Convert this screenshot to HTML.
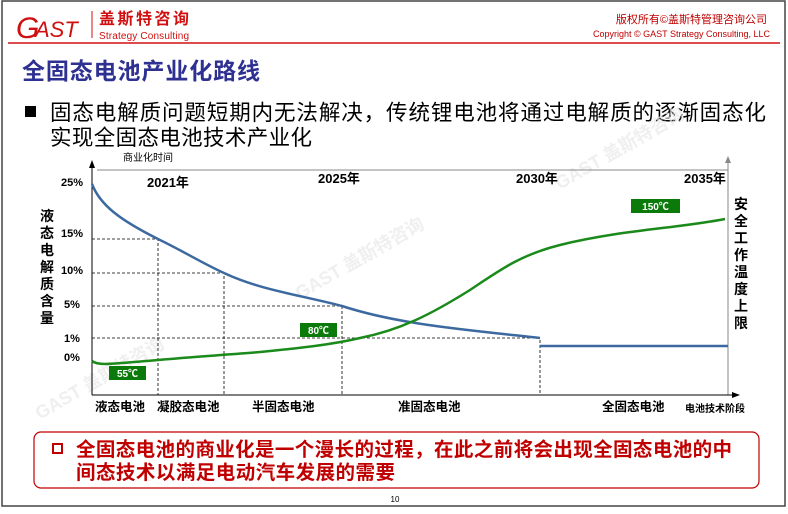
<!DOCTYPE html>
<html><head><meta charset="utf-8"><style>
html,body{margin:0;padding:0;background:#fff}
svg text{font-family:"Liberation Sans","Noto Sans CJK SC",sans-serif}
</style></head><body>
<svg width="788" height="509" viewBox="0 0 788 509" xmlns="http://www.w3.org/2000/svg">
<rect x="0" y="0" width="788" height="509" fill="#fff"/>
<rect x="2" y="1" width="783" height="505" fill="none" stroke="#444" stroke-width="1.5"/>
<!-- header -->
<text x="16" y="38" font-size="30" font-style="italic" fill="#d01010" font-family="Liberation Serif">G</text>
<text x="35" y="37" font-size="22" font-style="italic" fill="#d01010" font-family="Liberation Sans">AST</text>
<line x1="92" y1="11" x2="92" y2="38" stroke="#d01010" stroke-width="1"/>
<text x="99" y="24" font-size="16" font-weight="bold" fill="#d01010" textLength="90">盖斯特咨询</text>
<text x="99" y="39" font-size="10" fill="#d01010" textLength="90">Strategy Consulting</text>
<text x="767" y="23" font-size="11" fill="#c00000" text-anchor="end">版权所有©盖斯特管理咨询公司</text>
<text x="770" y="37" font-size="9" fill="#c00000" text-anchor="end">Copyright © GAST Strategy Consulting, LLC</text>
<line x1="8" y1="43" x2="780" y2="43" stroke="#d01010" stroke-width="1.5"/>
<text x="22" y="79" font-size="23" font-weight="bold" fill="#2e3192" textLength="238">全固态电池产业化路线</text>
<rect x="25" y="106" width="11" height="11" fill="#000"/>
<text x="50" y="120" font-size="21.5" fill="#000" textLength="716">固态电解质问题短期内无法解决，传统锂电池将通过电解质的逐渐固态化</text>
<text x="50" y="145" font-size="21.5" fill="#000" textLength="262">实现全固态电池技术产业化</text>
<!-- watermark -->
<g fill="#e8e8e8" font-weight="bold" font-size="18" opacity="0.7">
<text x="40" y="420" transform="rotate(-30 40 420)">GAST 盖斯特咨询</text>
<text x="300" y="300" transform="rotate(-30 300 300)">GAST 盖斯特咨询</text>
<text x="560" y="190" transform="rotate(-30 560 190)">GAST 盖斯特咨询</text>
</g>
<!-- axes -->
<text x="123" y="161" font-size="10" fill="#000">商业化时间</text>
<line x1="92" y1="166" x2="92" y2="395" stroke="#000" stroke-width="1"/>
<polygon points="89,168 92,160 95,168" fill="#000"/>
<line x1="97" y1="170" x2="728" y2="170" stroke="#888" stroke-width="1"/>
<line x1="728" y1="162" x2="728" y2="395" stroke="#888" stroke-width="1"/>
<polygon points="725,163 728,156 731,163" fill="#888"/>
<line x1="92" y1="395" x2="734" y2="395" stroke="#000" stroke-width="1"/>
<polygon points="732,392 740,395 732,398" fill="#000"/>
<g font-size="11" font-weight="bold" fill="#000">
<text x="61" y="186">25%</text><text x="61" y="237">15%</text><text x="61" y="274">10%</text>
<text x="64" y="308">5%</text><text x="64" y="342">1%</text><text x="64" y="361">0%</text>
</g>
<g font-size="13" font-weight="bold" fill="#000">
<text x="147" y="187">2021年</text><text x="318" y="183">2025年</text>
<text x="516" y="183">2030年</text><text x="684" y="183">2035年</text>
</g>
<g font-size="14" font-weight="bold" fill="#000" text-anchor="middle">
<text x="47" y="221">液</text><text x="47" y="238">态</text><text x="47" y="255">电</text><text x="47" y="272">解</text><text x="47" y="289">质</text><text x="47" y="306">含</text><text x="47" y="323">量</text>
<text x="741" y="209">安</text><text x="741" y="226">全</text><text x="741" y="243">工</text><text x="741" y="260">作</text><text x="741" y="277">温</text><text x="741" y="294">度</text><text x="741" y="311">上</text><text x="741" y="328">限</text>
</g>
<g stroke="#000" stroke-width="0.8" stroke-dasharray="3,2" fill="none">
<path d="M92 239H158V395M92 273H224V395M92 306H342V395M92 338H540V395"/>
</g>
<path d="M92 184 C100 205,120 220,158 239 C185 252,200 262,224 273 C260 290,300 295,342 306 C400 325,470 330,540 338" fill="none" stroke="#3c6aa0" stroke-width="2.5"/>
<line x1="540" y1="346" x2="728" y2="346" stroke="#3c6aa0" stroke-width="2.5"/>
<path d="M92 361 C98 366,110 364,158 360 C190 357,224 355,260 352 C300 348,330 345,360 338 C400 330,430 315,470 290 C500 270,520 255,560 245 C620 230,680 228,725 219" fill="none" stroke="#1a8a1a" stroke-width="2.5"/>
<rect x="109" y="366" width="37" height="14" fill="#0a7a0a"/><text x="127.5" y="377" font-size="10" font-weight="bold" fill="#fff" text-anchor="middle">55℃</text>
<rect x="300" y="323" width="37" height="14" fill="#0a7a0a"/><text x="318.5" y="334" font-size="10" font-weight="bold" fill="#fff" text-anchor="middle">80℃</text>
<rect x="631" y="199" width="49" height="14" fill="#0a7a0a"/><text x="655.5" y="210" font-size="10" font-weight="bold" fill="#fff" text-anchor="middle">150℃</text>
<g font-size="12.5" font-weight="bold" fill="#000">
<text x="95" y="411">液态电池</text><text x="157" y="411">凝胶态电池</text><text x="252" y="411">半固态电池</text>
<text x="398" y="411">准固态电池</text><text x="602" y="411">全固态电池</text>
</g>
<text x="685" y="412" font-size="10" font-weight="bold" fill="#000">电池技术阶段</text>
<!-- bottom box -->
<rect x="34" y="432" width="725" height="56" rx="7" fill="none" stroke="#c00000" stroke-width="1.2"/>
<rect x="53" y="444" width="9" height="9" fill="none" stroke="#c00000" stroke-width="2"/>
<text x="76" y="456" font-size="19.5" font-weight="bold" fill="#c00000" textLength="656">全固态电池的商业化是一个漫长的过程，在此之前将会出现全固态电池的中</text>
<text x="76" y="479" font-size="19.5" font-weight="bold" fill="#c00000" textLength="319">间态技术以满足电动汽车发展的需要</text>
<text x="395" y="502" font-size="8" fill="#000" text-anchor="middle">10</text>
</svg>
</body></html>
